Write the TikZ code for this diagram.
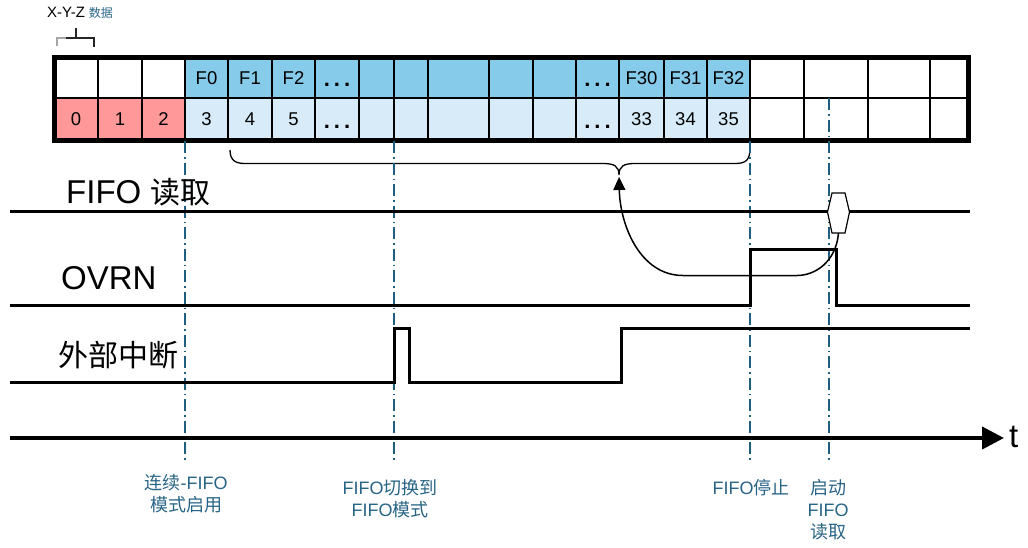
\documentclass[tikz,border=0pt]{standalone}
\usepackage{fontspec}
\setmainfont{Liberation Sans}
\newfontfamily\cjk{Noto Sans CJK SC}
\usetikzlibrary{arrows.meta}
\definecolor{topblue}{RGB}{135,203,235}
\definecolor{lowblue}{RGB}{215,236,248}
\definecolor{salmon}{RGB}{255,153,153}
\definecolor{markc}{RGB}{30,95,128}
\definecolor{labc}{RGB}{40,100,134}
\newcommand{\mydots}{\raisebox{-2.5pt}{\fontsize{22}{22}\selectfont\textbf{.\hspace{4pt}.\hspace{4pt}.}}}
\begin{document}
\begin{tikzpicture}[x=1pt,y=-1pt,
  cell/.style={draw=black, line width=1.5pt, inner sep=0pt,
    font=\fontsize{18.5}{18.5}\selectfont, text height=13.5pt, text depth=0pt},
  sig/.style={line width=3pt, line join=miter},
  marker/.style={draw=markc, line width=1.5pt, dash pattern=on 12pt off 4pt on 1.5pt off 4pt},
  evlabel/.style={text=labc, align=center, font=\fontsize{18}{22}\selectfont, inner sep=0pt},
  siglabel/.style={font=\fontsize{33}{33}\selectfont, inner sep=0pt},
  cjkbig/.style={font=\cjk\fontsize{30}{30}\selectfont, inner sep=0pt}]
\useasboundingbox (0,0) rectangle (1028,547);

% ---- table ----
\foreach \i/\a/\b/\tt/\bt/\tc/\bc in {
  1/54/98/{}/{0}/white/salmon,
  2/98/142/{}/{1}/white/salmon,
  3/142/185/{}/{2}/white/salmon,
  4/185/228/{F0}/{3}/topblue/lowblue,
  5/228/272/{F1}/{4}/topblue/lowblue,
  6/272/315/{F2}/{5}/topblue/lowblue,
  7/315/359/{\mydots}/{\mydots}/topblue/lowblue,
  8/359/394/{}/{}/topblue/lowblue,
  9/394/428/{}/{}/topblue/lowblue,
  10/428/489/{}/{}/topblue/lowblue,
  11/489/533/{}/{}/topblue/lowblue,
  12/533/576/{}/{}/topblue/lowblue,
  13/576/619/{\mydots}/{\mydots}/topblue/lowblue,
  14/619/664/{F30}/{33}/topblue/lowblue,
  15/664/707/{F31}/{34}/topblue/lowblue,
  16/707/750/{F32}/{35}/topblue/lowblue,
  17/750/804/{}/{}/white/white,
  18/804/868/{}/{}/white/white,
  19/868/930/{}/{}/white/white,
  20/930/968/{}/{}/white/white}{
  \node[cell, fill=\tc, minimum width={(\b-\a)*1pt}, minimum height=41pt]
    (t\i) at ({(\a+\b)/2},77.5) {\tt};
  \node[cell, fill=\bc, minimum width={(\b-\a)*1pt}, minimum height=42pt]
    (b\i) at ({(\a+\b)/2},119) {\bt};
}
\draw[line width=5pt] (54,57.5) rectangle (968,140.5);

% ---- X-Y-Z label and small bracket ----
\node[anchor=west, inner sep=0pt, font=\fontsize{15}{15}\selectfont] (xyz) at (47,13)
  {X-Y-Z\hspace{4pt}{\cjk\fontsize{12}{12}\selectfont\color{labc}数据}};
\draw[line width=2pt, black!85] (75.5,37.5) -- (75.5,28);
\draw[line width=2pt, black!85] (66,37.5) -- (94,37.5) -- (94,47);
\draw[line width=2pt, black!35] (57,46) -- (57,37.5) -- (66,37.5);

% ---- brace ----
\coordinate (braceL) at (230,150);
\coordinate (braceR) at (750,148);
\coordinate (braceTip) at (619,175);
\draw[line width=1.3pt] (braceL) .. controls (230,160) and (235,163.5) .. (245,163.5)
  -- (603,163.5) .. controls (614,163.5) and (619,166) .. (braceTip)
  .. controls (619,166) and (624,163.5) .. (635,163.5)
  -- (735,163.5) .. controls (746,163.5) and (750,160) .. (braceR);

% ---- event markers ----
\coordinate (m1a) at (185,141); \coordinate (m1b) at (185,463);
\coordinate (m2a) at (394,141); \coordinate (m2b) at (394,463);
\coordinate (m3a) at (750,141); \coordinate (m3b) at (750,463);
\coordinate (m4a) at (829,98);  \coordinate (m4b) at (829,463);
\draw[marker] (m1a) -- (m1b);
\draw[marker] (m2a) -- (m2b);
\draw[marker] (m3a) -- (m3b);
\draw[marker] (m4a) -- (m4b);

% ---- signal labels ----
\node[siglabel, anchor=base west] (lfifo) at (66,203)
  {FIFO {\cjk\fontsize{30}{30}\selectfont 读取}};
\node[siglabel, anchor=base west] (lovrn) at (61,289) {OVRN};
\node[cjkbig, anchor=west] (lext) at (58,355) {外部中断};

% ---- signals ----
\coordinate (f0) at (10,211); \coordinate (f1) at (970,211);
\draw[sig] (f0) -- (f1);
\coordinate (o0) at (10,305); \coordinate (o1) at (970,305);
\draw[sig] (o0) -- (750,305) -- (750,249) -- (836,249) -- (836,305) -- (o1);
\coordinate (e0) at (10,382); \coordinate (e1) at (970,328);
\draw[sig] (e0) -- (394,382) -- (394,328) -- (409,328) -- (409,382)
  -- (621,382) -- (621,328) -- (e1);

% ---- hexagon (FIFO read start) ----
\coordinate (hexB) at (838.5,233);
\draw[line width=1.2pt, fill=white] (832,193) -- (845,193) -- (849.5,212) -- (845,233)
  -- (832,233) -- (827.5,212) -- cycle;

% ---- arrow from hexagon to brace ----
\draw[line width=1.5pt, -{Triangle[length=13pt,width=12pt]}, shorten >=2pt]
  (hexB) .. controls (836,262) and (815,275.5) .. (797,275.5)
  -- (683,275.5) .. controls (640,275.5) and (620,225) .. (braceTip);

% ---- time axis ----
\coordinate (ax0) at (10,438); \coordinate (ax1) at (1004,438);
\draw[line width=4pt, -{Triangle[length=22pt,width=22pt]}] (ax0) -- (ax1);
\node[siglabel, anchor=west] (tlab) at (1009,437) {t};

% ---- event labels ----
\node[evlabel] (ev1) at (186,494) {{\cjk 连续}-FIFO\\{\cjk 模式启用}};
\node[evlabel] (ev2) at (390,499) {FIFO{\cjk 切换到}\\FIFO{\cjk 模式}};
\node[evlabel] (ev3) at (751,488) {FIFO{\cjk 停止}};
\node[evlabel] (ev4) at (828,510) {{\cjk 启动}\\FIFO\\{\cjk 读取}};
\end{tikzpicture}
\end{document}
